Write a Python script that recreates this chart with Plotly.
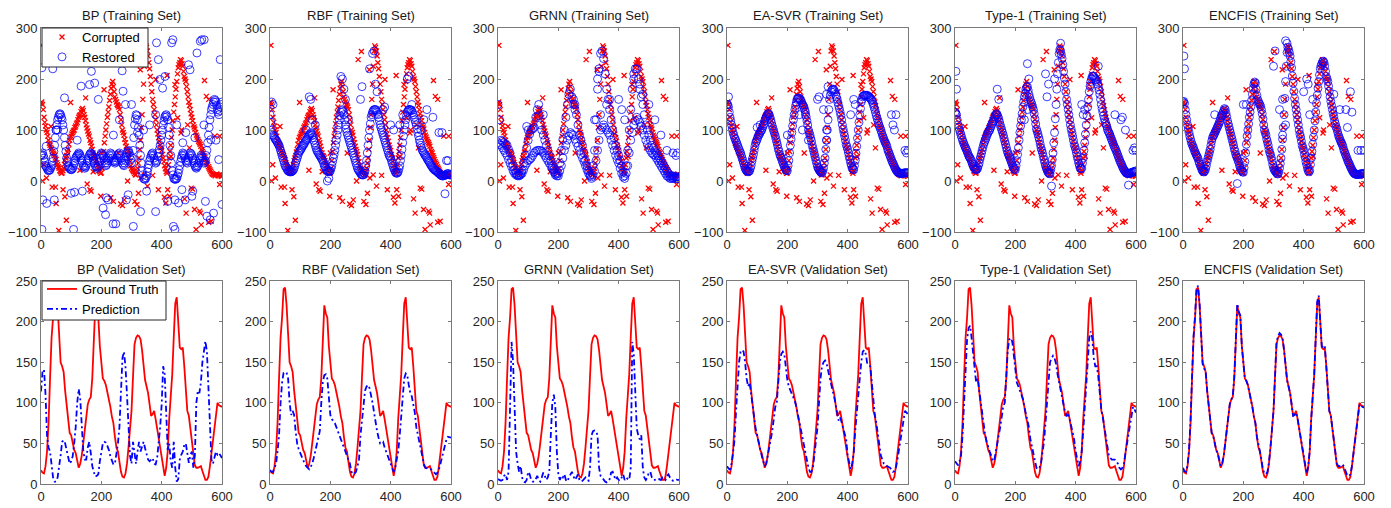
import plotly.graph_objects as go

# ---------------- DATA ----------------
methods = ["BP", "RBF", "GRNN", "EA-SVR", "Type-1", "ENCFIS"]
x_ticks = [0, 200, 400, 600]
top_y_ticks = [-100, 0, 100, 200, 300]
bottom_y_ticks = [0, 50, 100, 150, 200, 250]

# training set, corrupted samples: main band read at x = 0,5,...,600 and at x = 2.5,7.5,...,597.5
corrupted_base = [
    152, 150, 125, 108, 95, 80, 70, 63, 55, 50,
    42, 32, 25, 18, 16, 25, 40, 50, 62, 80,
    88, 95, 100, 108, 115, 125, 130, 140, 138, 125,
    110, 98, 88, 75, 62, 50, 45, 35, 25, 18,
    16, 40, 75, 100, 125, 145, 170, 190, 185, 165,
    155, 148, 140, 120, 100, 90, 75, 62, 52, 38,
    25, 20, 15, 12, 25, 45, 80, 130, 190, 255,
    262, 245, 220, 190, 160, 140, 120, 100, 85, 70,
    60, 45, 30, 18, 20, 45, 70, 100, 135, 165,
    195, 222, 232, 236, 225, 205, 195, 175, 155, 140,
    125, 110, 102, 90, 82, 75, 68, 58, 50, 42,
    35, 28, 22, 16, 13, 12, 12, 12, 12, 12,
    10]
corrupted_mid = [
    155, 140, 115, 100, 88, 74, 66, 58, 53, 45,
    36, 28, 20, 15, 20, 33, 45, 57, 72, 85,
    92, 98, 105, 112, 120, 128, 136, 142, 130, 118,
    104, 92, 80, 68, 55, 48, 40, 30, 20, 15,
    25, 58, 88, 112, 135, 158, 182, 195, 175, 160,
    150, 145, 130, 110, 95, 82, 68, 58, 45, 30,
    22, 18, 12, 18, 35, 62, 105, 160, 225, 265,
    255, 232, 205, 175, 150, 130, 110, 92, 78, 65,
    52, 38, 24, 15, 32, 58, 85, 118, 150, 180,
    210, 228, 238, 230, 215, 200, 185, 165, 148, 132,
    118, 106, 95, 86, 78, 72, 62, 55, 46, 38,
    32, 25, 19, 14, 12, 10, 14, 10, 12, 9]
corrupted_out_x = [3, 5, 9, 18, 33, 37, 48, 50, 59, 73, 79, 84, 98, 129, 148, 153, 162, 166, 173, 198,
                   200, 209, 231, 240, 256, 264, 270, 276, 287, 292, 303, 311, 318, 323, 329, 331, 342, 353, 370, 381,
                   389, 409, 414, 418, 420, 426, 431, 444, 453, 464, 476, 481, 492, 498, 503, 509, 514, 526, 529, 531,
                   542, 548, 556, 556, 564, 576, 592, 592, 466, 486]
corrupted_out_y = [266, 0, 32, 6, 107, -12, -12, -44, -97, -17, -31, -77, 154, 21, 163, -6, -17, -20, 18, -30,
                   55, 179, -33, -40, 55, -45, -48, -37, 0, 238, 254, -40, -46, -24, 218, 6, 12, -10, 11, 199,
                   -17, -32, -43, 207, -17, -30, 48, 189, 124, 94, -35, -63, 65, -14, -16, -56, -95, -59, -63, -86,
                   197, 166, 160, -81, -79, 88, 88, -7, 100, 110]

# restored training samples (x = 0,5,...,600 and x = 2.5,...,597.5) plus scattered points
restored_bp = [
    50, 55, 45, 30, 25, 20, 22, 30, 45, 70,
    100, 120, 130, 130, 120, 100, 70, 45, 30, 25,
    22, 25, 35, 45, 50, 55, 50, 40, 30, 25,
    30, 40, 50, 55, 50, 40, 30, 25, 30, 45,
    55, 50, 40, 30, 35, 45, 55, 50, 40, 35,
    40, 50, 55, 45, 35, 30, 40, 55, 60, 50,
    35, 60, 110, 130, 120, 90, 50, 20, 5, 3,
    10, 25, 40, 50, 55, 45, 35, 40, 55, 70,
    90, 110, 125, 130, 120, 90, 50, 20, 5, 3,
    5, 15, 30, 45, 55, 50, 40, 35, 45, 55,
    50, 40, 30, 25, 30, 40, 50, 45, 35, 40,
    60, 90, 120, 140, 150, 160, 155, 140, 130, 145,
    155]
restored_bp_mid = [
    52, 50, 38, 28, 22, 21, 26, 38, 58, 85,
    110, 125, 132, 125, 110, 85, 58, 38, 28, 23,
    23, 30, 40, 48, 52, 53, 45, 35, 28, 27,
    35, 45, 53, 53, 45, 35, 28, 27, 38, 50,
    53, 45, 35, 32, 40, 50, 53, 45, 38, 37,
    45, 53, 50, 40, 32, 35, 48, 58, 55, 42,
    45, 85, 122, 128, 105, 70, 35, 12, 4, 6,
    18, 32, 45, 53, 50, 40, 37, 48, 62, 80,
    100, 118, 128, 126, 105, 70, 35, 12, 4, 4,
    10, 22, 38, 50, 53, 45, 37, 40, 50, 53,
    45, 35, 27, 28, 35, 45, 48, 40, 37, 50,
    75, 105, 130, 145, 155, 158, 148, 135, 138, 150]
restored_bp_ex_x = [3, 3, 19, 39, 44, 83, 108, 111, 133, 137, 161, 167, 178, 206, 214, 217, 239, 248, 269, 272,
                    289, 306, 350, 383, 389, 394, 403, 411, 433, 437, 439, 444, 444, 456, 467, 478, 489, 494, 503, 517,
                    528, 533, 541, 550, 561, 572, 594, 600, 563, 589, 17, 55, 78, 172, 240, 260, 280, 320, 360, 380,
                    470, 510, 6, 100, 222, 283, 330, 380, 420, 500, 545, 50, 120, 190, 300, 340, 450, 480, 540, 580]
restored_bp_ex_y = [222, -95, -44, 220, -37, 298, -95, -22, 186, -20, 189, 215, 192, -53, -66, -33, -84, -84, 216, 176,
                    -27, -89, -20, 271, 238, 199, 182, 205, 271, 277, -89, -95, -37, -43, -17, -37, 228, 218, -20, 251,
                    274, 277, 277, -69, -76, -63, 238, -46, 81, 42, 68, 100, 163, 48, 90, 120, 150, 95, 110, 130,
                    75, 85, -37, -24, -37, -37, -60, -60, -40, -30, -40, 100, 80, 160, 150, 100, 110, 95, 110, 80]

restored_rbf = [
    130, 100, 90, 85, 80, 75, 70, 60, 50, 40,
    30, 25, 20, 18, 18, 20, 25, 35, 45, 55,
    60, 65, 70, 75, 80, 85, 90, 95, 90, 80,
    70, 60, 55, 50, 45, 40, 30, 25, 20, 18,
    20, 30, 45, 60, 80, 100, 120, 135, 140, 130,
    110, 95, 85, 75, 65, 55, 45, 35, 25, 20,
    15, 12, 12, 20, 40, 70, 100, 125, 135, 140,
    140, 135, 125, 110, 100, 90, 80, 70, 60, 50,
    45, 35, 25, 18, 15, 18, 30, 50, 75, 100,
    120, 135, 140, 140, 138, 130, 120, 110, 95, 80,
    70, 60, 55, 50, 45, 40, 35, 30, 25, 22,
    20, 18, 15, 12, 10, 10, 12, 12, 15, 12,
    12]
restored_rbf_mid = [
    115, 95, 88, 82, 78, 72, 65, 55, 45, 35,
    28, 22, 19, 18, 19, 22, 30, 40, 50, 58,
    62, 68, 72, 78, 82, 88, 92, 93, 85, 75,
    65, 58, 52, 48, 42, 35, 28, 22, 19, 19,
    25, 38, 52, 70, 90, 110, 128, 138, 136, 120,
    102, 90, 80, 70, 60, 50, 40, 30, 22, 18,
    13, 12, 15, 30, 55, 85, 112, 130, 138, 140,
    138, 130, 118, 105, 95, 85, 75, 65, 55, 48,
    40, 30, 22, 16, 16, 24, 40, 62, 88, 110,
    128, 138, 140, 139, 134, 125, 115, 102, 88, 75,
    65, 58, 52, 48, 42, 38, 32, 28, 24, 21,
    19, 16, 14, 11, 10, 11, 12, 14, 13, 12]
restored_rbf_ex_x = [5, 10, 130, 135, 140, 150, 120, 235, 240, 245, 250, 260, 300, 305, 330, 340, 345, 350, 355, 375,
                     380, 400, 410, 430, 440, 455, 460, 470, 500, 510, 520, 540, 560, 570, 580, 585, 590, 190, 195]
restored_rbf_ex_y = [155, 150, 165, 160, 120, 110, 100, 205, 200, 180, 160, 120, 160, 185, 220, 250, 255, 190, 175, 140,
                     145, 110, 100, 110, 130, 200, 205, 150, 100, 120, 140, 125, 95, 95, -25, 40, 40, 0, 5]

# GRNN restored: two bands, read at x = 0,10,...,600 and x = 5,15,...,595
restored_grnn_upper = [
    150, 80, 75, 70, 55, 30, 15, 12, 20, 50,
    80, 100, 105, 140, 110, 90, 70, 50, 30, 15,
    15, 60, 100, 150, 180, 150, 130, 90, 70, 40,
    20, 8, 60, 180, 250, 240, 180, 140, 100, 70,
    50, 30, 10, 60, 140, 210, 220, 180, 150, 110,
    90, 70, 60, 50, 40, 30, 20, 10, 10, 8,
    8]
restored_grnn_upper_mid = [
    120, 78, 72, 62, 42, 22, 12, 15, 35, 65,
    92, 102, 125, 128, 100, 80, 60, 40, 22, 14,
    35, 82, 125, 170, 165, 140, 110, 80, 55, 30,
    12, 30, 120, 220, 255, 210, 160, 120, 85, 60,
    40, 18, 30, 100, 180, 220, 200, 165, 130, 100,
    80, 65, 55, 45, 35, 25, 15, 10, 9, 8]
restored_grnn_lower = [
    75, 70, 60, 50, 35, 20, 12, 10, 15, 30,
    40, 45, 55, 60, 60, 55, 45, 35, 25, 12,
    10, 30, 60, 80, 95, 90, 75, 60, 45, 30,
    15, 5, 20, 60, 100, 110, 100, 90, 70, 50,
    35, 15, 5, 30, 80, 110, 125, 115, 100, 80,
    65, 55, 50, 40, 30, 20, 10, 5, 5, 5,
    5]
restored_grnn_lower_mid = [
    72, 65, 55, 42, 28, 15, 10, 12, 22, 35,
    42, 50, 58, 60, 58, 50, 40, 30, 18, 10,
    20, 45, 70, 88, 92, 82, 68, 52, 38, 22,
    10, 12, 40, 80, 105, 105, 95, 80, 60, 42,
    25, 8, 15, 55, 95, 118, 120, 108, 90, 72,
    60, 52, 45, 35, 25, 15, 8, 5, 5, 5]
restored_grnn_ex_x = [95, 100, 400, 410, 420, 450, 470, 480, 500, 520, 540, 560, 580, 590, 595, 150, 135, 250, 255,
                      330, 335, 360, 370, 340, 320]
restored_grnn_ex_y = [107, 100, 160, 140, 120, 200, 190, 170, 150, 120, 90, 60, 55, 50, 55, 130, 150, 160, 150,
                      200, 215, 150, 160, 130, 120]

restored_easvr = [
    150, 145, 125, 110, 95, 85, 78, 70, 62, 55,
    45, 35, 25, 20, 18, 20, 30, 45, 60, 75,
    82, 90, 95, 100, 108, 118, 125, 132, 130, 120,
    108, 98, 88, 76, 63, 52, 45, 36, 28, 22,
    20, 40, 70, 95, 120, 140, 155, 162, 162, 158,
    150, 145, 135, 118, 100, 90, 78, 64, 52, 40,
    28, 22, 18, 16, 25, 45, 80, 120, 160, 175,
    180, 178, 170, 160, 148, 135, 120, 102, 88, 72,
    62, 48, 35, 25, 22, 40, 68, 100, 130, 155,
    165, 168, 168, 168, 165, 162, 158, 150, 140, 128,
    118, 108, 100, 90, 82, 75, 68, 58, 50, 42,
    35, 28, 22, 18, 16, 15, 15, 15, 16, 16,
    16]
restored_easvr_mid = [
    150, 135, 118, 102, 90, 82, 74, 66, 58, 50,
    40, 30, 22, 19, 19, 25, 38, 52, 68, 78,
    86, 92, 98, 104, 112, 122, 128, 132, 125, 114,
    103, 93, 82, 70, 58, 48, 40, 32, 25, 21,
    30, 55, 82, 108, 130, 148, 160, 163, 160, 154,
    148, 140, 126, 110, 95, 84, 70, 58, 46, 34,
    25, 20, 17, 20, 35, 62, 100, 140, 168, 178,
    180, 175, 165, 154, 142, 128, 110, 95, 80, 67,
    55, 42, 30, 23, 30, 54, 84, 115, 142, 160,
    167, 168, 168, 166, 164, 160, 154, 145, 134, 123,
    113, 104, 95, 86, 78, 72, 62, 54, 46, 38,
    32, 25, 20, 17, 15, 15, 15, 16, 16, 16]
restored_easvr_ex_x = [5, 300, 305, 330, 335, 320, 260, 270, 330, 330, 420, 425, 410, 545, 550, 555, 560, 590, 595,
                       600, 100, 110, 200, 240, 250]
restored_easvr_ex_y = [165, 160, 165, 170, 185, 140, 130, 80, 80, 100, 160, 150, 130, 130, 110, 100, 130, 60, 55,
                       60, 105, 110, 90, 130, 100]

restored_type1 = [
    135, 130, 110, 100, 90, 80, 72, 65, 58, 50,
    45, 38, 30, 25, 22, 25, 35, 48, 60, 72,
    80, 88, 95, 100, 108, 115, 122, 130, 130, 122,
    110, 100, 90, 78, 66, 55, 48, 40, 32, 25,
    22, 40, 65, 95, 120, 145, 165, 180, 185, 170,
    158, 150, 140, 122, 102, 92, 80, 65, 55, 42,
    30, 22, 16, 14, 30, 55, 95, 150, 210, 250,
    255, 240, 215, 190, 160, 140, 120, 102, 88, 72,
    62, 48, 35, 25, 25, 45, 75, 110, 145, 175,
    195, 205, 205, 200, 195, 185, 170, 150, 135, 122,
    112, 102, 95, 88, 80, 72, 65, 58, 50, 42,
    35, 28, 22, 18, 15, 15, 15, 16, 18, 18,
    20]
restored_type1_mid = [
    133, 120, 105, 95, 85, 76, 68, 62, 54, 47,
    42, 34, 28, 23, 23, 30, 42, 54, 66, 76,
    84, 92, 98, 104, 112, 118, 126, 132, 126, 116,
    105, 95, 84, 72, 60, 52, 44, 36, 28, 23,
    30, 52, 80, 108, 132, 155, 172, 184, 178, 164,
    154, 145, 132, 112, 97, 86, 72, 60, 48, 36,
    26, 18, 15, 22, 42, 75, 122, 180, 232, 258,
    248, 228, 202, 175, 150, 130, 110, 95, 80, 67,
    55, 42, 30, 24, 35, 60, 92, 128, 160, 186,
    200, 206, 202, 198, 190, 178, 160, 142, 128, 117,
    108, 98, 92, 84, 76, 68, 62, 54, 46, 38,
    32, 25, 20, 16, 15, 15, 16, 17, 18, 19]
restored_type1_ex_x = [3, 5, 240, 245, 300, 305, 310, 330, 140, 145, 475, 420, 425, 430, 530, 550, 555, 565, 590,
                       595, 600, 350, 230, 240, 575, 320]
restored_type1_ex_y = [215, 180, 230, 200, 210, 165, 190, 200, 180, 160, 225, 150, 130, 140, 130, 120, 125, 100, 60,
                       65, 60, 270, 120, 140, -8, -10]

restored_encfis = [
    155, 152, 130, 110, 95, 82, 72, 65, 57, 50,
    44, 34, 27, 20, 18, 24, 38, 50, 62, 78,
    88, 94, 100, 107, 114, 124, 130, 138, 140, 126,
    112, 100, 88, 76, 63, 52, 45, 36, 26, 20,
    17, 38, 72, 100, 125, 146, 170, 190, 192, 168,
    156, 150, 140, 122, 100, 90, 76, 62, 52, 40,
    26, 20, 16, 14, 25, 45, 82, 130, 195, 252,
    258, 245, 222, 192, 162, 140, 120, 100, 86, 70,
    60, 46, 32, 20, 20, 45, 72, 100, 135, 168,
    195, 220, 230, 235, 226, 205, 195, 176, 156, 140,
    126, 112, 102, 90, 82, 75, 68, 58, 50, 42,
    35, 28, 22, 17, 14, 13, 13, 13, 14, 14,
    15]
restored_encfis_mid = [
    156, 140, 120, 102, 88, 76, 68, 60, 53, 47,
    38, 30, 22, 18, 20, 30, 44, 56, 70, 84,
    90, 97, 104, 110, 118, 128, 134, 142, 133, 118,
    106, 94, 82, 70, 58, 48, 40, 30, 22, 18,
    26, 55, 88, 112, 135, 158, 182, 194, 180, 160,
    152, 146, 132, 110, 95, 82, 70, 56, 46, 32,
    22, 18, 14, 18, 34, 62, 105, 162, 225, 262,
    252, 234, 206, 176, 150, 130, 110, 92, 78, 65,
    52, 38, 25, 18, 32, 58, 86, 118, 152, 182,
    208, 226, 234, 232, 215, 200, 186, 165, 148, 132,
    118, 106, 96, 86, 78, 72, 62, 54, 46, 38,
    32, 25, 19, 15, 13, 13, 13, 14, 14, 15]
restored_encfis_ex_x = [3, 5, 105, 200, 210, 300, 305, 340, 345, 330, 330, 340, 320, 410, 415, 400, 420, 430, 500,
                        520, 540, 545, 555, 560, 580, 590, 600, 180]
restored_encfis_ex_y = [245, 220, 130, 150, 150, 225, 255, 275, 270, 160, 90, 110, 140, 200, 190, 175, 130, 160, 170,
                        140, 140, 105, 175, 135, 60, 60, 60, -5]

# validation set (read at x = 0,5,...,600)
ground_truth = [
    17, 14, 13, 22, 40, 75, 130, 180, 205, 240,
    242, 220, 185, 150, 145, 138, 115, 95, 82, 63,
    60, 48, 42, 38, 27, 20, 25, 35, 50, 66,
    75, 98, 104, 107, 130, 185, 220, 210, 205, 170,
    150, 130, 127, 122, 113, 105, 95, 83, 75, 58,
    45, 40, 28, 15, 9, 8, 13, 25, 45, 65,
    90, 132, 172, 180, 183, 182, 178, 165, 145, 128,
    120, 112, 98, 84, 86, 90, 80, 68, 58, 48,
    35, 18, 10, 20, 40, 80, 108, 135, 180, 222,
    230, 200, 168, 166, 168, 145, 110, 90, 84, 68,
    55, 33, 23, 20, 20, 21, 22, 16, 10, 5,
    5, 9, 22, 38, 55, 72, 88, 100, 97, 96,
    95]
pred_bp = [
    114, 139, 141, 110, 60, 45, 40, 22, 8, 3,
    3, 8, 20, 35, 52, 54, 50, 42, 34, 25,
    28, 34, 50, 70, 100, 117, 105, 70, 42, 30,
    30, 45, 52, 38, 22, 15, 9, 10, 12, 28,
    42, 50, 52, 51, 47, 42, 34, 28, 24, 25,
    38, 50, 70, 110, 155, 163, 145, 110, 65, 35,
    25, 52, 38, 25, 40, 52, 40, 45, 52, 44,
    38, 30, 28, 30, 32, 25, 24, 32, 48, 70,
    98, 145, 135, 75, 42, 50, 28, 20, 52, 20,
    3, 6, 30, 36, 40, 48, 50, 38, 26, 35,
    40, 20, 35, 100, 115, 112, 125, 150, 165, 176,
    163, 120, 65, 30, 25, 35, 40, 36, 38, 35,
    32]
pred_rbf = [
    17, 15, 15, 20, 25, 40, 60, 100, 125, 137,
    138, 137, 130, 100, 85, 90, 85, 65, 50, 43,
    38, 34, 30, 25, 22, 20, 18, 21, 25, 32,
    40, 48, 55, 65, 100, 125, 134, 135, 130, 110,
    85, 80, 77, 75, 70, 65, 60, 55, 50, 45,
    40, 35, 30, 25, 15, 12, 13, 15, 22, 30,
    60, 80, 100, 115, 120, 122, 118, 110, 100, 88,
    75, 65, 57, 50, 51, 52, 45, 40, 35, 30,
    25, 18, 15, 20, 28, 40, 60, 85, 110, 130,
    136, 134, 122, 112, 108, 100, 88, 70, 60, 50,
    40, 32, 25, 20, 19, 18, 18, 18, 16, 14,
    12, 14, 18, 25, 32, 38, 45, 55, 58, 57,
    57]
pred_grnn = [
    6, 5, 4, 5, 10, 12, 5, 15, 100, 175,
    150, 90, 40, 25, 15, 22, 8, 3, 2, 5,
    15, 12, 5, 3, 3, 6, 10, 5, 3, 8,
    14, 10, 5, 8, 15, 60, 100, 110, 95, 40,
    12, 5, 10, 8, 12, 5, 3, 8, 12, 15,
    10, 5, 8, 12, 5, 3, 4, 6, 8, 5,
    4, 20, 60, 65, 66, 65, 60, 20, 10, 8,
    5, 3, 2, 3, 6, 14, 15, 10, 5, 8,
    5, 4, 8, 12, 5, 8, 6, 5, 20, 175,
    160, 100, 68, 60, 55, 60, 20, 8, 5, 8,
    14, 15, 8, 5, 5, 6, 5, 6, 5, 8,
    6, 5, 10, 12, 8, 5, 4, 5, 6, 5,
    5]
pred_easvr = [
    22, 19, 18, 25, 38, 55, 90, 125, 150, 163,
    165, 163, 150, 130, 120, 125, 110, 92, 82, 68,
    60, 50, 42, 35, 28, 22, 25, 35, 45, 55,
    65, 80, 95, 100, 130, 150, 160, 163, 160, 140,
    128, 120, 116, 112, 108, 102, 95, 85, 78, 70,
    58, 48, 38, 27, 20, 15, 15, 20, 35, 50,
    70, 100, 130, 145, 150, 152, 149, 140, 130, 122,
    115, 108, 100, 88, 78, 82, 76, 70, 62, 55,
    35, 25, 18, 25, 38, 65, 90, 110, 130, 150,
    163, 165, 160, 148, 146, 145, 125, 100, 85, 75,
    60, 45, 35, 30, 25, 23, 22, 22, 20, 18,
    15, 16, 20, 30, 42, 55, 68, 80, 90, 88,
    86]
pred_type1 = [
    28, 25, 23, 28, 35, 60, 100, 150, 178, 192,
    195, 180, 160, 138, 125, 130, 115, 100, 88, 72,
    60, 52, 45, 40, 35, 28, 29, 38, 50, 60,
    70, 85, 96, 100, 130, 165, 178, 180, 175, 155,
    138, 125, 120, 115, 110, 105, 95, 87, 80, 70,
    55, 45, 38, 28, 20, 18, 20, 25, 38, 52,
    75, 100, 135, 150, 155, 158, 155, 148, 135, 125,
    118, 110, 100, 88, 84, 85, 80, 72, 62, 55,
    40, 30, 22, 28, 40, 65, 90, 120, 150, 180,
    188, 180, 155, 145, 145, 132, 110, 92, 82, 70,
    55, 42, 35, 32, 30, 30, 30, 28, 25, 20,
    18, 20, 25, 38, 50, 62, 75, 85, 95, 92,
    88]
pred_encfis = [
    20, 16, 15, 23, 42, 78, 132, 182, 207, 242,
    244, 222, 185, 148, 142, 140, 115, 95, 82, 63,
    60, 48, 42, 38, 28, 22, 25, 35, 50, 66,
    76, 98, 104, 108, 132, 188, 222, 212, 208, 170,
    150, 130, 127, 122, 113, 105, 95, 83, 75, 58,
    46, 40, 30, 18, 13, 12, 15, 27, 45, 65,
    90, 132, 175, 182, 186, 184, 180, 165, 145, 128,
    120, 112, 98, 84, 85, 88, 80, 68, 58, 48,
    35, 20, 13, 22, 40, 80, 108, 135, 180, 225,
    232, 205, 170, 168, 170, 145, 110, 90, 84, 68,
    55, 34, 25, 22, 22, 23, 24, 20, 15, 10,
    10, 12, 22, 38, 55, 72, 88, 98, 96, 95,
    94]


def grid(arr, step, start=0.0):
    return [start + step * i for i in range(len(arr))]


restored = {
    "BP": [(restored_bp, 5, 0), (restored_bp_mid, 5, 2.5), (restored_bp_ex_x, restored_bp_ex_y)],
    "RBF": [(restored_rbf, 5, 0), (restored_rbf_mid, 5, 2.5), (restored_rbf_ex_x, restored_rbf_ex_y)],
    "GRNN": [(restored_grnn_upper, 10, 0), (restored_grnn_upper_mid, 10, 5),
             (restored_grnn_lower, 10, 0), (restored_grnn_lower_mid, 10, 5),
             (restored_grnn_ex_x, restored_grnn_ex_y)],
    "EA-SVR": [(restored_easvr, 5, 0), (restored_easvr_mid, 5, 2.5), (restored_easvr_ex_x, restored_easvr_ex_y)],
    "Type-1": [(restored_type1, 5, 0), (restored_type1_mid, 5, 2.5), (restored_type1_ex_x, restored_type1_ex_y)],
    "ENCFIS": [(restored_encfis, 5, 0), (restored_encfis_mid, 5, 2.5), (restored_encfis_ex_x, restored_encfis_ex_y)],
}
predictions = {"BP": pred_bp, "RBF": pred_rbf, "GRNN": pred_grnn,
               "EA-SVR": pred_easvr, "Type-1": pred_type1, "ENCFIS": pred_encfis}

corr_x = grid(corrupted_base, 5) + grid(corrupted_mid, 5, 2.5) + corrupted_out_x
corr_y = corrupted_base + corrupted_mid + corrupted_out_y

# ---------------- FIGURE ----------------
W, H = 1391, 508
FONT = "Liberation Sans, Arial, Helvetica, sans-serif"
lefts = [41, 270, 498, 727, 955, 1183]
pw = 181
top_row = (28, 232)
bot_row = (281, 484)

fig = go.Figure()
layout = dict(template="none", width=W, height=H, autosize=False, margin=dict(l=0, r=0, t=0, b=0, pad=0),
              paper_bgcolor="white", plot_bgcolor="white",
              font=dict(family=FONT, size=13, color="#262626"),
              annotations=[], shapes=[])

red_x = dict(symbol="x-thin", size=5, color="#ff0000", line=dict(width=1.3, color="#ff0000"))
blue_o = dict(symbol="circle-open", size=8, color="rgba(0,0,255,0.85)", line=dict(width=0.9))

for r in range(2):
    for c, m in enumerate(methods):
        k = r * 6 + c + 1
        xa = "x" if k == 1 else f"x{k}"
        ya = "y" if k == 1 else f"y{k}"
        y0, y1 = top_row if r == 0 else bot_row
        xdom = [lefts[c] / W, (lefts[c] + pw) / W]
        ydom = [1 - y1 / H, 1 - y0 / H]
        axcommon = dict(showline=True, mirror="ticks", linecolor="#7a7a7a", linewidth=1,
                        ticks="inside", ticklen=3, tickcolor="#7a7a7a", showgrid=False, zeroline=False,
                        automargin=False,
                        tickfont=dict(family=FONT, size=13, color="#262626"))
        layout["xaxis" if k == 1 else f"xaxis{k}"] = dict(
            domain=xdom, range=[0, 600], tickvals=x_ticks, anchor=ya, **axcommon)
        layout["yaxis" if k == 1 else f"yaxis{k}"] = dict(
            domain=ydom, range=[-100, 300] if r == 0 else [0, 250],
            tickvals=top_y_ticks if r == 0 else bottom_y_ticks, anchor=xa, **axcommon)
        title = f"{m} (Training Set)" if r == 0 else f"{m} (Validation Set)"
        layout["annotations"].append(dict(
            text=title, x=(lefts[c] + pw / 2) / W, y=1 - (15.5 if r == 0 else 269.5) / H,
            xref="paper", yref="paper", showarrow=False, xanchor="center", yanchor="middle",
            font=dict(family=FONT, size=13, color="#1a1a1a")))

        if r == 0:
            fig.add_trace(go.Scatter(x=corr_x, y=corr_y, mode="markers", marker=red_x, name="Corrupted",
                                     showlegend=(c == 0), legend="legend", xaxis=xa, yaxis=ya))
            xs, ys = [], []
            for part in restored[m]:
                if len(part) == 3:
                    xs += grid(part[0], part[1], part[2])
                    ys += list(part[0])
                else:
                    xs += list(part[0])
                    ys += list(part[1])
            fig.add_trace(go.Scatter(x=xs, y=ys, mode="markers", marker=blue_o, name="Restored",
                                     showlegend=(c == 0), legend="legend", xaxis=xa, yaxis=ya))
        else:
            fig.add_trace(go.Scatter(x=grid(ground_truth, 5), y=ground_truth, mode="lines",
                                     line=dict(color="#ff0000", width=1.8), name="Ground Truth",
                                     showlegend=(c == 0), legend="legend2", xaxis=xa, yaxis=ya))
            pr = predictions[m]
            fig.add_trace(go.Scatter(x=grid(pr, 5), y=pr, mode="lines",
                                     line=dict(color="#0000ff", width=1.8, dash="6px,3px,2px,3px"),
                                     name="Prediction",
                                     showlegend=(c == 0), legend="legend2", xaxis=xa, yaxis=ya))

# legend boxes (white, bordered) drawn above the data; legend text sits on top of them
for (bx0, by0, bx1, by1) in [(42, 28, 148, 67), (42, 281, 166, 320)]:
    layout["shapes"].append(dict(type="rect", xref="paper", yref="paper",
                                 x0=bx0 / W, x1=bx1 / W, y0=1 - by1 / H, y1=1 - by0 / H,
                                 fillcolor="white", line=dict(color="#262626", width=1), layer="above"))

legend_common = dict(xanchor="left", yanchor="top", bgcolor="rgba(0,0,0,0)",
                     borderwidth=0, font=dict(family=FONT, size=13, color="#000000"),
                     tracegroupgap=0, itemwidth=30)
layout["legend"] = dict(x=42 / W, y=1 - 22 / H, **legend_common)
layout["legend2"] = dict(x=42 / W, y=1 - 274 / H, **legend_common)

fig.update_layout(**layout)
fig.write_html("out.html", config={"displayModeBar": False, "responsive": False},
               post_script="document.body.style.margin='0';document.body.style.overflow='hidden';")
